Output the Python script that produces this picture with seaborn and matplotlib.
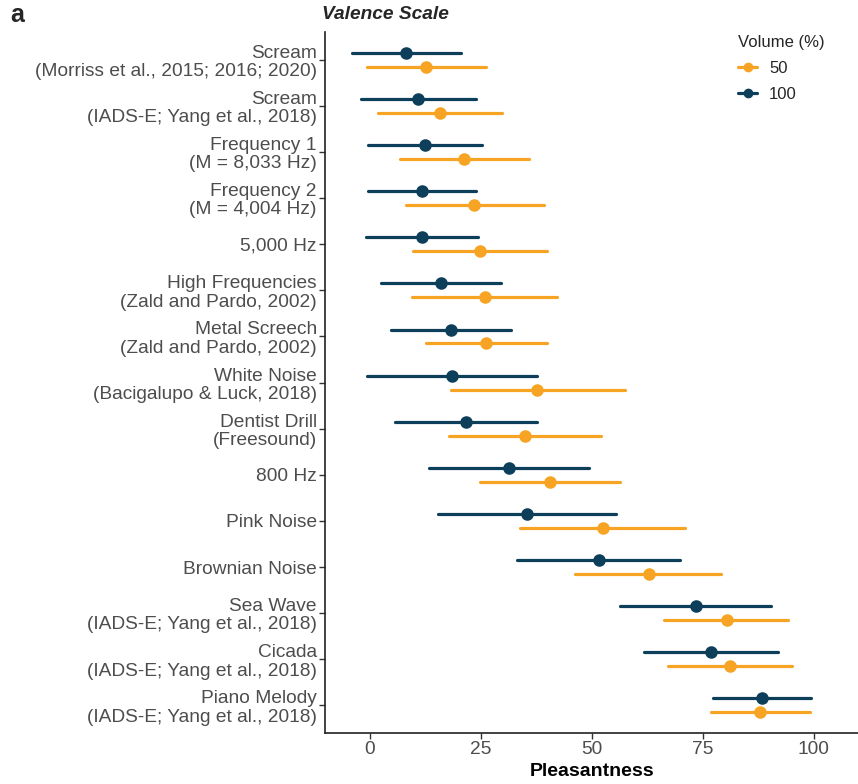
import numpy as np
import pandas as pd
import matplotlib
matplotlib.use("Agg")
import matplotlib.pyplot as plt
from matplotlib.lines import Line2D
import seaborn as sns

# Sound stimuli (top to bottom)
sounds = [
    "Scream\n(Morriss et al., 2015; 2016; 2020)",
    "Scream\n(IADS-E; Yang et al., 2018)",
    "Frequency 1\n(M = 8,033 Hz)",
    "Frequency 2\n(M = 4,004 Hz)",
    "5,000 Hz",
    "High Frequencies\n(Zald and Pardo, 2002)",
    "Metal Screech\n(Zald and Pardo, 2002)",
    "White Noise\n(Bacigalupo & Luck, 2018)",
    "Dentist Drill\n(Freesound)",
    "800 Hz",
    "Pink Noise",
    "Brownian Noise",
    "Sea Wave\n(IADS-E; Yang et al., 2018)",
    "Cicada\n(IADS-E; Yang et al., 2018)",
    "Piano Melody\n(IADS-E; Yang et al., 2018)",
]

# Volume 100 %: mean pleasantness and interval bounds
mean_100 = [8.2, 11.0, 12.4, 11.7, 11.8, 16.0, 18.3, 18.5, 21.7, 31.4, 35.4, 51.7, 73.5, 76.9, 88.4]
low_100 = [-4.0, -1.9, -0.4, -0.4, -0.9, 2.5, 4.8, -0.5, 5.7, 13.4, 15.3, 33.3, 56.3, 61.8, 77.3]
high_100 = [20.6, 23.9, 25.4, 23.9, 24.5, 29.6, 31.8, 37.7, 37.7, 49.5, 55.6, 69.8, 90.5, 91.9, 99.5]

# Volume 50 %: mean pleasantness and interval bounds
mean_50 = [12.8, 15.9, 21.3, 23.6, 24.8, 25.9, 26.3, 37.8, 35.1, 40.6, 52.5, 62.9, 80.4, 81.2, 87.9]
low_50 = [-0.5, 1.9, 6.8, 8.1, 9.7, 9.5, 12.6, 18.3, 17.9, 24.9, 33.9, 46.3, 66.4, 67.2, 76.9]
high_50 = [26.2, 29.8, 36.0, 39.3, 40.0, 42.3, 40.0, 57.5, 52.1, 56.4, 71.1, 79.2, 94.2, 95.2, 99.1]

volumes = ["100", "50"]
colors = {"50": "#F7A425", "100": "#0D3F5B"}
x_ticks = [0, 25, 50, 75, 100]

# Long-form table: each sound/volume pair holds its lower bound, mean and upper bound,
# so the median is the mean and the min/max span is the interval.
rows = []
for vol, lo, mu, hi in [("100", low_100, mean_100, high_100), ("50", low_50, mean_50, high_50)]:
    for s, a, m, b in zip(sounds, lo, mu, hi):
        for v in (a, m, b):
            rows.append({"sound": s, "volume": vol, "value": v})
df = pd.DataFrame(rows)

sns.set_theme(style="white")
plt.rcParams["font.family"] = ["Liberation Sans", "DejaVu Sans"]

fig = plt.figure(figsize=(8.58, 7.84), dpi=100)
ax = fig.add_axes([0.379, 0.065, 0.621, 0.894])

sns.pointplot(
    data=df, x="value", y="sound", hue="volume",
    order=sounds, hue_order=volumes, palette=colors,
    estimator="median", errorbar=lambda v: (v.min(), v.max()),
    dodge=0.3, linestyle="none", markers="o", markersize=7,
    err_kws={"linewidth": 2.3}, capsize=0, ax=ax, legend=False,
)

ax.set_xlim(-10, 110)
ax.set_ylim(14.6, -0.6)
ax.set_xticks(x_ticks)
ax.set_xticklabels([str(t) for t in x_ticks])

for side in ("top", "right"):
    ax.spines[side].set_visible(False)
for side in ("left", "bottom"):
    ax.spines[side].set_color("#222222")
    ax.spines[side].set_linewidth(1.2)

ax.tick_params(axis="both", which="major", direction="out", length=4, width=1.0,
               color="#333333", labelcolor="#4D4D4D", labelsize=13.8,
               left=True, bottom=True, pad=2)
for lab in ax.get_yticklabels():
    lab.set_linespacing(1.1)
    lab.set_multialignment("right")

ax.set_ylabel("")
ax.set_xlabel("Pleasantness", fontsize=14, fontweight="bold", color="black", labelpad=3)

handles = [
    Line2D([], [], color=colors["50"], marker="o", markersize=6, linewidth=2.3, label="50"),
    Line2D([], [], color=colors["100"], marker="o", markersize=6, linewidth=2.3, label="100"),
]
leg = ax.legend(handles=handles, title="Volume (%)", loc="upper left",
                bbox_to_anchor=(0.747, 1.017), frameon=False, fontsize=12,
                title_fontsize=12, handlelength=1.15, handletextpad=0.7,
                labelspacing=0.65, alignment="left")

fig.text(0.375, 0.982, "Valence Scale", fontsize=13.8, fontweight="bold",
         fontstyle="italic", ha="left", va="center")
fig.text(0.012, 0.981, "a", fontsize=18, fontweight="bold", ha="left", va="center")

fig.savefig("out.png", dpi=100)
